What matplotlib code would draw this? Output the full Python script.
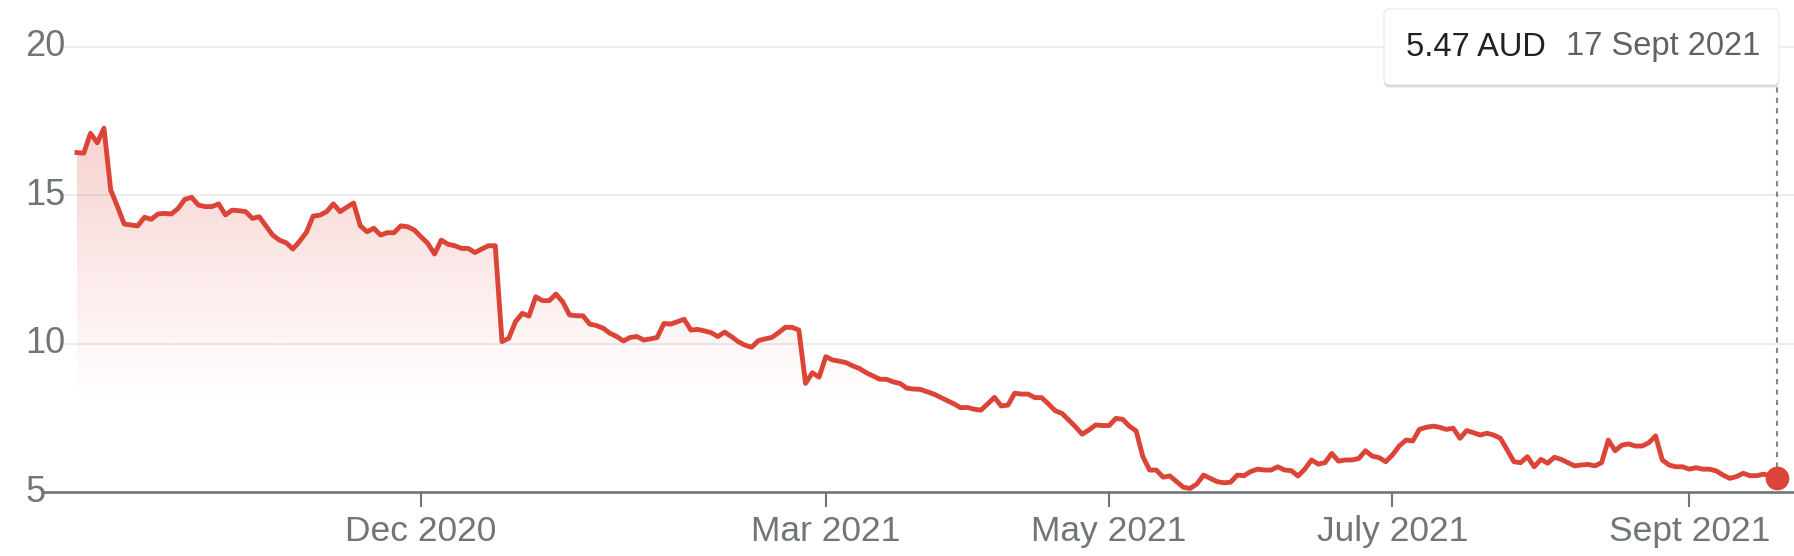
import numpy as np
import pandas as pd
import matplotlib
matplotlib.use("Agg")
import matplotlib.pyplot as plt
from matplotlib.patches import Polygon, FancyBboxPatch
from matplotlib.transforms import IdentityTransform

plt.rcParams['font.family'] = ['Liberation Sans', 'DejaVu Sans']

# ASX trading days, 18 Sept 2020 - 17 Sept 2021
asx_holidays = ["2020-12-25", "2020-12-28", "2021-01-01", "2021-01-26",
                "2021-04-02", "2021-04-05", "2021-04-26", "2021-06-14"]
dates = pd.bdate_range("2020-09-18", "2021-09-17", freq="C", holidays=asx_holidays)

# daily close (AUD)
prices = [
    16.44, 16.42, 17.09, 16.77, 17.26, 15.18, 14.62, 14.03, 14.00, 13.97,
    14.26, 14.19, 14.37, 14.39, 14.37, 14.56, 14.87, 14.93, 14.67, 14.62,
    14.62, 14.71, 14.34, 14.50, 14.48, 14.45, 14.22, 14.28, 13.97, 13.66,
    13.49, 13.40, 13.19, 13.45, 13.75, 14.30, 14.33, 14.45, 14.71, 14.45,
    14.60, 14.74, 13.97, 13.77, 13.89, 13.66, 13.74, 13.74, 13.97, 13.94,
    13.83, 13.60, 13.38, 13.02, 13.49, 13.35, 13.30, 13.21, 13.21, 13.07,
    13.19, 13.30, 13.30, 10.07, 10.18, 10.74, 11.02, 10.93, 11.58, 11.45,
    11.45, 11.67, 11.41, 10.97, 10.94, 10.94, 10.66, 10.61, 10.52, 10.35,
    10.24, 10.09, 10.21, 10.24, 10.12, 10.16, 10.21, 10.68, 10.66, 10.74,
    10.82, 10.46, 10.48, 10.43, 10.37, 10.24, 10.39, 10.24, 10.07, 9.95,
    9.88, 10.10, 10.16, 10.21, 10.37, 10.55, 10.55, 10.46, 8.66, 9.02,
    8.87, 9.56, 9.45, 9.41, 9.36, 9.25, 9.16, 9.02, 8.91, 8.80,
    8.80, 8.71, 8.66, 8.50, 8.47, 8.46, 8.38, 8.30, 8.19, 8.08,
    7.97, 7.84, 7.85, 7.79, 7.76, 7.97, 8.19, 7.90, 7.93, 8.33,
    8.30, 8.30, 8.18, 8.18, 7.97, 7.74, 7.65, 7.43, 7.20, 6.95,
    7.09, 7.26, 7.24, 7.24, 7.48, 7.45, 7.22, 7.06, 6.19, 5.74,
    5.74, 5.50, 5.54, 5.35, 5.16, 5.12, 5.27, 5.57, 5.46, 5.35,
    5.31, 5.33, 5.57, 5.55, 5.69, 5.77, 5.74, 5.74, 5.85, 5.74,
    5.72, 5.54, 5.77, 6.08, 5.94, 5.99, 6.30, 6.04, 6.08, 6.08,
    6.13, 6.39, 6.21, 6.16, 6.02, 6.25, 6.55, 6.75, 6.72, 7.11,
    7.18, 7.22, 7.18, 7.11, 7.15, 6.81, 7.07, 7.00, 6.92, 6.98,
    6.92, 6.81, 6.42, 6.02, 5.99, 6.19, 5.85, 6.10, 5.97, 6.17,
    6.10, 5.99, 5.88, 5.91, 5.93, 5.88, 5.99, 6.75, 6.39, 6.58,
    6.62, 6.55, 6.55, 6.66, 6.89, 6.08, 5.91, 5.85, 5.85, 5.77,
    5.82, 5.77, 5.77, 5.71, 5.57, 5.46, 5.52, 5.63, 5.55, 5.55,
    5.60, 5.55, 5.47,
]

tick_months = ["2020-12", "2021-03", "2021-05", "2021-07", "2021-09"]
tick_labels = ["Dec 2020", "Mar 2021", "May 2021", "July 2021", "Sept 2021"]
y_ticks = [5, 10, 15, 20]
currency = "AUD"
tooltip_date = "17 Sept 2021"

RED = '#db4437'
GREY = '#70757a'

# pixel layout of the original screenshot
W, H = 1794, 556
x0_px, step_px = 77, 6.746      # first point, px per trading day
y5_px, unit_px = 492, 29.67     # baseline (5 AUD), px per AUD

fig = plt.figure(figsize=(W / 100, H / 100), dpi=100)
ax = fig.add_axes([0, (H - y5_px) / H, 1, y5_px / H])

x = np.arange(len(prices))
y = np.array(prices)

# faded red area under the line
grad_top = 17.6
gy = np.linspace(y_ticks[0], grad_top, 256)
rgba = np.zeros((256, 1, 4))
rgba[..., :3] = matplotlib.colors.to_rgb(RED)
rgba[..., 3] = np.clip(0.026 * (gy - 8.1), 0, 0.23)[:, None]
im = ax.imshow(rgba, extent=[x[0], x[-1], y_ticks[0], grad_top], origin='lower',
               aspect='auto', interpolation='bilinear', zorder=1)
area = Polygon(np.column_stack([np.r_[x, x[::-1]],
                                np.r_[y, np.full(len(x), float(y_ticks[0]))]]),
               closed=True, facecolor='none', edgecolor='none')
ax.add_patch(area)
im.set_clip_path(area)

ax.set_xlim(-x0_px / step_px, (W - x0_px) / step_px)
ax.set_ylim(y_ticks[0], y_ticks[0] + y5_px / unit_px)

# grid lines start right of the labels
for v in y_ticks[1:]:
    ax.axhline(v, xmin=64 / W, xmax=1, color='#ececec', lw=1.5, zorder=0)
for v in y_ticks:
    ax.text(25 / W, v, str(v), transform=ax.get_yaxis_transform(),
            ha='left', va='center', fontsize=26, color=GREY)

for s in ['top', 'right', 'left']:
    ax.spines[s].set_visible(False)
ax.spines['bottom'].set_bounds((44 - x0_px) / step_px, (W - x0_px) / step_px)
ax.spines['bottom'].set_color(GREY)
ax.spines['bottom'].set_linewidth(1.9)

# ticks sit at the month boundary
tick_pos = [np.searchsorted(dates, pd.Timestamp(m + "-01")) - 1 for m in tick_months]
ax.set_xticks(tick_pos, tick_labels)
ax.set_yticks([])
ax.tick_params(axis='x', length=10.8, width=1.5, color=GREY,
               labelsize=25.5, labelcolor=GREY, pad=6)

ax.plot(x, y, color=RED, lw=3.5, solid_joinstyle='round', zorder=3)

# hover marker, guide and tooltip
ax.plot([x[-1], x[-1]], [y[-1], y_ticks[0] + (y5_px - 85) / unit_px],
        color='#80868b', lw=1.5, dashes=(2.5, 2.5), zorder=2, clip_on=False)
ax.plot(x[-1], y[-1], 'o', ms=16, color=RED, zorder=4, clip_on=False)

for off, a in [(3, 0.06), (2, 0.08), (1, 0.10)]:
    fig.add_artist(FancyBboxPatch((1384, H - 85 - off), 395, 76,
                                  boxstyle='round,pad=0,rounding_size=6',
                                  transform=IdentityTransform(),
                                  facecolor='black', edgecolor='none', alpha=a))
fig.add_artist(FancyBboxPatch((1384, H - 85), 395, 76,
                              boxstyle='round,pad=0,rounding_size=6',
                              transform=IdentityTransform(),
                              facecolor='white', edgecolor='#e6e6e6', lw=0.8))
fig.text(1406 / W, 1 - 47 / H, f"{y[-1]:.2f} {currency}", fontsize=23.5,
         color='#202124', ha='left', va='center')
fig.text(1566 / W, 1 - 47 / H, tooltip_date, fontsize=23.5,
         color='#5f6368', ha='left', va='center')

fig.savefig('out.png', dpi=100)
